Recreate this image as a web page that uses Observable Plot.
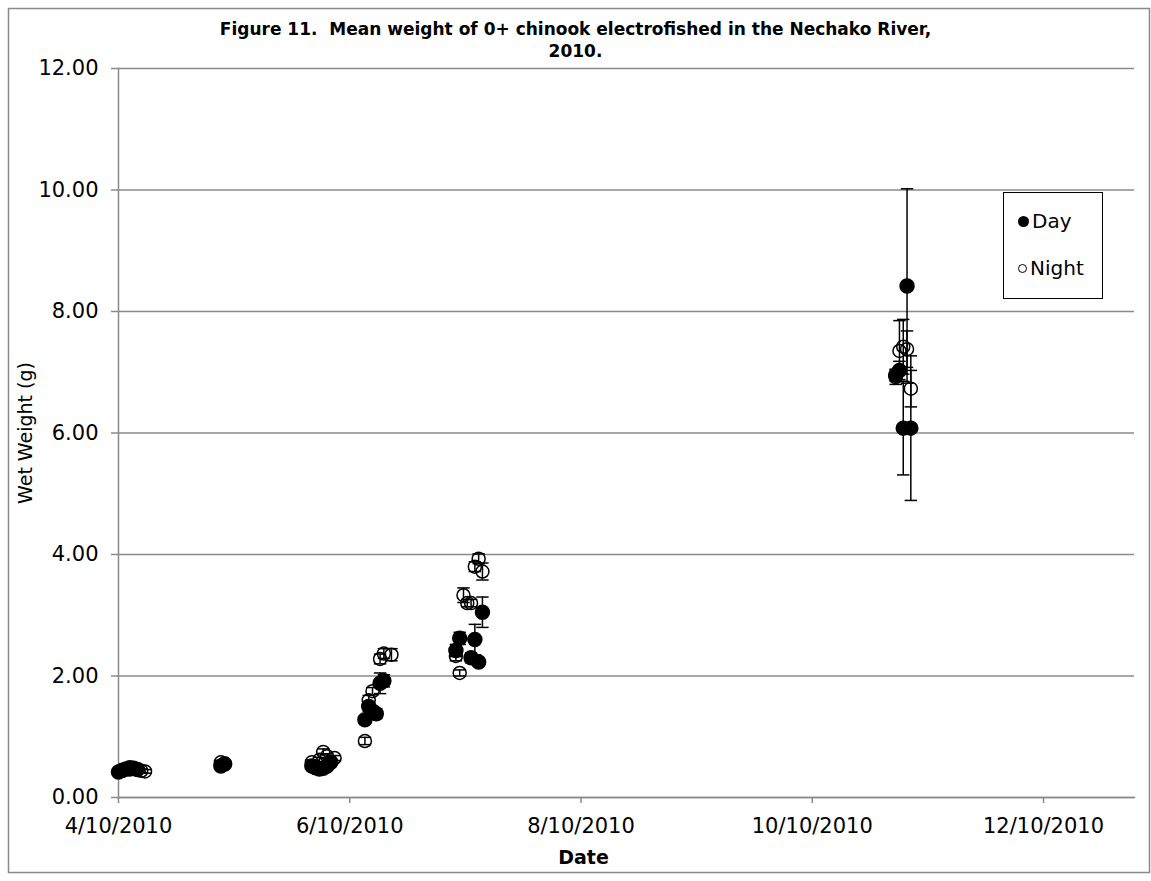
<!DOCTYPE html>
<html>
<head>
<meta charset="utf-8">
<script src="https://cdn.jsdelivr.net/npm/d3@7"></script>
<script src="https://cdn.jsdelivr.net/npm/@observablehq/plot@0.6"></script>
<style>
  html, body { margin: 0; padding: 0; background: #fff; }
  #wrap { position: relative; width: 1151px; height: 881px; font-family: "DejaVu Sans", sans-serif; }
  #legend { position: absolute; left: 1003px; top: 192px; width: 98px; height: 105px; border: 1.5px solid #000; background: #fff; font-size: 20px; }
  .item { position: absolute; left: 14px; display: flex; align-items: center; gap: 3px; }
  .sw { border-radius: 50%; box-sizing: border-box; }
</style>
</head>
<body>
<div id="wrap"></div>
<script>
// ---- data ----
const titleText = "Figure 11.  Mean weight of 0+ chinook electrofished in the Nechako River,\n2010.";
const xTitle = "Date";
const yTitle = "Wet Weight (g)";
const seriesNames = ["Day", "Night"];

const xTickDates = ["2010-04-10", "2010-06-10", "2010-08-10", "2010-10-10", "2010-12-10"];
const xTickLabels = ["4/10/2010", "6/10/2010", "8/10/2010", "10/10/2010", "12/10/2010"];
const xDomain = ["2010-04-10", "2011-01-03"];
const yTicks = [0, 2, 4, 6, 8, 10, 12];

const dayDates = [
  "2010-04-10", "2010-04-11", "2010-04-12", "2010-04-13", "2010-04-14", "2010-04-15",
  "2010-05-07", "2010-05-08",
  "2010-05-31", "2010-06-01", "2010-06-02", "2010-06-03", "2010-06-04", "2010-06-05",
  "2010-06-14", "2010-06-15", "2010-06-16", "2010-06-17", "2010-06-18", "2010-06-19",
  "2010-07-08", "2010-07-09", "2010-07-12", "2010-07-13", "2010-07-14", "2010-07-15",
  "2010-11-01", "2010-11-02", "2010-11-03", "2010-11-04", "2010-11-05"
];
const dayMeans = [
  0.42, 0.45, 0.47, 0.49, 0.48, 0.46,
  0.52, 0.55,
  0.52, 0.49, 0.47, 0.48, 0.52, 0.58,
  1.28, 1.50, 1.42, 1.38, 1.88, 1.92,
  2.42, 2.62, 2.30, 2.60, 2.23, 3.05,
  6.95, 7.03, 6.08, 8.42, 6.08
];
const dayErr = [
  0.03, 0.03, 0.03, 0.03, 0.03, 0.03,
  0.03, 0.03,
  0.04, 0.04, 0.04, 0.04, 0.04, 0.05,
  0.06, 0.08, 0.08, 0.08, 0.17, 0.10,
  0.10, 0.10, 0.08, 0.25, 0.06, 0.25,
  0.10, 0.15, 0.77, 1.60, 1.19
];

const nightDates = [
  "2010-04-11", "2010-04-13", "2010-04-16", "2010-04-17",
  "2010-05-07", "2010-05-08",
  "2010-05-31", "2010-06-02", "2010-06-03", "2010-06-04", "2010-06-06",
  "2010-06-14", "2010-06-15", "2010-06-16", "2010-06-18", "2010-06-19", "2010-06-21",
  "2010-07-08", "2010-07-09", "2010-07-10", "2010-07-11", "2010-07-12", "2010-07-13", "2010-07-14", "2010-07-15",
  "2010-11-01", "2010-11-02", "2010-11-03", "2010-11-04", "2010-11-05"
];
const nightMeans = [
  0.44, 0.46, 0.44, 0.43,
  0.58, 0.56,
  0.58, 0.62, 0.75, 0.68, 0.65,
  0.93, 1.60, 1.75, 2.28, 2.37, 2.35,
  2.33, 2.05, 3.33, 3.20, 3.20, 3.80, 3.93, 3.72,
  6.92, 7.35, 7.42, 7.38, 6.73
];
const nightErr = [
  0.03, 0.03, 0.03, 0.03,
  0.03, 0.03,
  0.04, 0.04, 0.05, 0.04, 0.04,
  0.06, 0.08, 0.06, 0.08, 0.08, 0.10,
  0.08, 0.05, 0.12, 0.06, 0.06, 0.08, 0.08, 0.14,
  0.12, 0.50, 0.45, 0.30, 0.30
];

// ---- build ----
const parse = d3.utcParse("%Y-%m-%d");
const toRows = (dates, means, errs, series) =>
  dates.map((d, i) => ({date: parse(d), mean: means[i], lo: means[i] - errs[i], hi: means[i] + errs[i], series}));
const day = toRows(dayDates, dayMeans, dayErr, seriesNames[0]);
const night = toRows(nightDates, nightMeans, nightErr, seriesNames[1]);
const all = day.concat(night);

const cap = {draw(ctx, size) { const w = Math.sqrt(size) / 2; ctx.moveTo(-w, 0); ctx.lineTo(w, 0); }};
const grey = "#8a8a8a";

const chart = Plot.plot({
  width: 1151,
  height: 881,
  marginLeft: 118,
  marginRight: 17,
  marginTop: 68,
  marginBottom: 84,
  style: {fontFamily: "DejaVu Sans, sans-serif", fontSize: "21px", color: "#000", background: "#fff", overflow: "visible"},
  x: {type: "utc", domain: xDomain.map(parse)},
  y: {domain: [yTicks[0], yTicks[yTicks.length - 1]]},
  marks: [
    Plot.frame({stroke: grey, strokeWidth: 1.5, insetLeft: -110, insetTop: -60, insetRight: -15, insetBottom: -75}),
    Plot.gridY(yTicks, {stroke: grey, strokeOpacity: 1, strokeWidth: 1.5}),
    Plot.frame({anchor: "left", stroke: grey, strokeWidth: 1.5}),
    Plot.frame({anchor: "bottom", stroke: grey, strokeWidth: 1.5}),
    Plot.axisY(yTicks, {tickFormat: d3.format(".2f"), tickSize: 7, tickPadding: 13, stroke: grey, strokeWidth: 1.5, label: null, fontSize: 21}),
    Plot.axisX(xTickDates.map(parse), {tickFormat: (d, i) => xTickLabels[i], tickSize: 6, tickPadding: 15, stroke: grey, strokeWidth: 1.5, label: null, fontSize: 21}),
    Plot.text([yTitle], {frameAnchor: "left", textAnchor: "middle", dx: -93, rotate: -90, fontSize: 19}),
    Plot.text([xTitle], {frameAnchor: "bottom", dx: -43, dy: 66, fontSize: 19, fontWeight: "bold"}),
    Plot.text([titleText], {frameAnchor: "top", dx: -51, dy: -49, lineAnchor: "top", lineHeight: 1.3, fontSize: 17, fontWeight: "bold"}),
    // error bars
    Plot.ruleX(all, {x: "date", y1: "lo", y2: "hi", stroke: "#000", strokeWidth: 1.5}),
    Plot.dot(all, {x: "date", y: "lo", symbol: cap, r: 7, stroke: "#000", strokeWidth: 1.5, fill: "none"}),
    Plot.dot(all, {x: "date", y: "hi", symbol: cap, r: 7, stroke: "#000", strokeWidth: 1.5, fill: "none"}),
    // markers
    Plot.dot(day, {x: "date", y: "mean", r: 7, fill: "#000", stroke: "#000"}),
    Plot.dot(night, {x: "date", y: "mean", r: 6.5, fill: "none", stroke: "#000", strokeWidth: 1.5})
  ]
});

const wrap = document.getElementById("wrap");
wrap.appendChild(chart);

const legend = document.createElement("div");
legend.id = "legend";
legend.innerHTML = seriesNames.map((name, i) =>
  `<div class="item" style="top:${i === 0 ? 16 : 63}px"><span class="sw" style="${i === 0 ? "width:11px;height:11px;background:#000" : "width:9px;height:9px;border:1.3px solid #000"}"></span><span>${name}</span></div>`
).join("");
wrap.appendChild(legend);
</script>
</body>
</html>
